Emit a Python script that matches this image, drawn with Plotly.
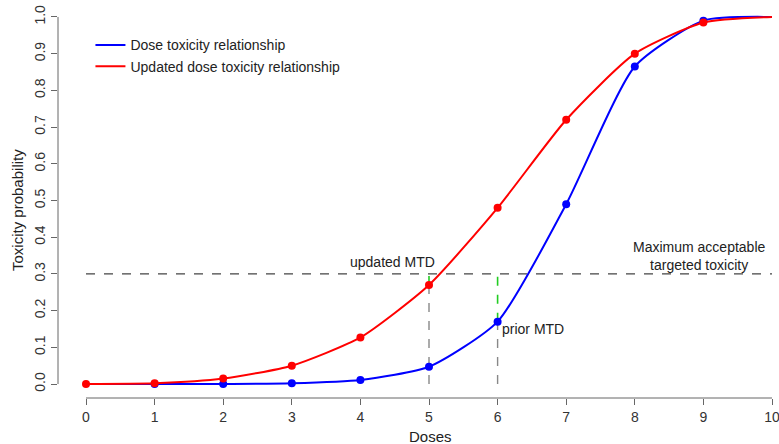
import plotly.graph_objects as go

doses = [0, 1, 2, 3, 4, 5, 6, 7, 8, 9, 10]
prior_tox = [0.0, 0.0, 0.0, 0.002, 0.011, 0.047, 0.17, 0.49, 0.865, 0.99, 1.0]
updated_tox = [0.0, 0.002, 0.015, 0.05, 0.127, 0.27, 0.48, 0.72, 0.9, 0.985, 1.0]
marker_doses_prior = [1, 2, 3, 4, 5, 6, 7, 8, 9]
marker_doses_updated = [0, 1, 2, 3, 4, 5, 6, 7, 8, 9]
target = 0.3
prior_mtd = 6
updated_mtd = 5
x_ticks = list(range(0, 11))
y_ticks = [0.0, 0.1, 0.2, 0.3, 0.4, 0.5, 0.6, 0.7, 0.8, 0.9, 1.0]

BLUE = "#0000FF"
RED = "#FF0000"
GREEN = "#22CC22"
GRAY = "#888888"
FONT = "Liberation Sans, Arial, sans-serif"
FS = 14

W, H = 779, 444
ML, MR, MT, MB = 58, 0, 10, 46
plot_w = W - ML - MR
plot_h = H - MT - MB
PX_PER_DOSE = 68.6
x_lo = -(86 - ML) / PX_PER_DOSE
x_hi = x_lo + plot_w / PX_PER_DOSE

fig = go.Figure()

# horizontal target line
fig.add_trace(go.Scatter(x=[0, 10], y=[target, target], mode="lines",
                         line=dict(color="#444444", width=1.2, dash="dash"),
                         showlegend=False, hoverinfo="skip"))

# vertical MTD guides
pv = prior_tox[prior_mtd]
uv = updated_tox[updated_mtd]
fig.add_trace(go.Scatter(x=[updated_mtd, updated_mtd], y=[0, uv], mode="lines",
                         line=dict(color=GRAY, width=1.4, dash="dash"),
                         showlegend=False, hoverinfo="skip"))
fig.add_trace(go.Scatter(x=[prior_mtd, prior_mtd], y=[0, pv], mode="lines",
                         line=dict(color=GRAY, width=1.4, dash="dash"),
                         showlegend=False, hoverinfo="skip"))
fig.add_trace(go.Scatter(x=[updated_mtd, updated_mtd], y=[uv, target], mode="lines",
                         line=dict(color=GREEN, width=1.6, dash="dash"),
                         showlegend=False, hoverinfo="skip"))
fig.add_trace(go.Scatter(x=[prior_mtd, prior_mtd], y=[pv, target], mode="lines",
                         line=dict(color=GREEN, width=1.6, dash="dash"),
                         showlegend=False, hoverinfo="skip"))

# curves
fig.add_trace(go.Scatter(x=doses, y=prior_tox, mode="lines", name="Dose toxicity relationship",
                         line=dict(color=BLUE, width=2, shape="spline", smoothing=0.6)))
fig.add_trace(go.Scatter(x=marker_doses_prior, y=[prior_tox[d] for d in marker_doses_prior],
                         mode="markers", marker=dict(color=BLUE, size=8), showlegend=False))
fig.add_trace(go.Scatter(x=doses, y=updated_tox, mode="lines", name="Updated dose toxicity relationship",
                         line=dict(color=RED, width=2, shape="spline", smoothing=0.6)))
fig.add_trace(go.Scatter(x=marker_doses_updated, y=[updated_tox[d] for d in marker_doses_updated],
                         mode="markers", marker=dict(color=RED, size=8), showlegend=False))

# axis lines (R style, detached)
fig.add_shape(type="line", xref="x", yref="paper", x0=0, x1=10, y0=0, y1=0,
              line=dict(color="#666666", width=1))
fig.add_shape(type="line", xref="paper", yref="y", x0=0, x1=0, y0=0, y1=1,
              line=dict(color="#666666", width=1))

annots = [
    dict(x=4.47, y=0.333, text="updated MTD", xanchor="center", yanchor="middle"),
    dict(x=6.03, y=0.15, text="prior MTD", xanchor="left", yanchor="middle"),
    dict(x=8.94, y=0.35, text="Maximum acceptable<br>targeted toxicity", xanchor="center", yanchor="middle"),
]
for a in annots:
    fig.add_annotation(**a, showarrow=False, font=dict(family=FONT, size=FS, color="#222222"))

# axis titles
fig.add_annotation(x=(430 - ML) / plot_w, y=-(436 - (H - MB)) / plot_h, xref="paper", yref="paper",
                   text="Doses", showarrow=False, xanchor="center", yanchor="middle",
                   font=dict(family=FONT, size=15, color="#222222"))
fig.add_annotation(x=-(ML - 18) / plot_w, y=((H - MB) - 210) / plot_h, xref="paper", yref="paper",
                   text="Toxicity probability", showarrow=False, textangle=-90,
                   xanchor="center", yanchor="middle",
                   font=dict(family=FONT, size=15, color="#222222"))

fig.update_layout(
    width=W, height=H,
    margin=dict(l=ML, r=MR, t=MT, b=MB),
    paper_bgcolor="white", plot_bgcolor="white",
    font=dict(family=FONT, size=FS, color="#333333"),
    legend=dict(x=0.045, y=0.95, xanchor="left", yanchor="top", bgcolor="rgba(0,0,0,0)",
                font=dict(family=FONT, size=FS, color="#222222"), tracegroupgap=0),
    xaxis=dict(range=[x_lo, x_hi], tickvals=x_ticks, ticks="outside", ticklen=6,
               tickcolor="#666666", showgrid=False, zeroline=False, showline=False,
               automargin=False, tickfont=dict(size=FS), ticklabeloverflow="allow"),
    yaxis=dict(range=[-0.038, 1.019], tickvals=y_ticks, ticktext=[f"{v:.1f}" for v in y_ticks],
               ticks="outside", ticklen=6, tickcolor="#666666", tickangle=-90,
               showgrid=False, zeroline=False, showline=False,
               automargin=False, tickfont=dict(size=FS), ticklabeloverflow="allow"),
)

fig.write_html("out.html", config={"displayModeBar": False},
               post_script="document.body.style.margin='0px';document.body.style.overflow='hidden';")
